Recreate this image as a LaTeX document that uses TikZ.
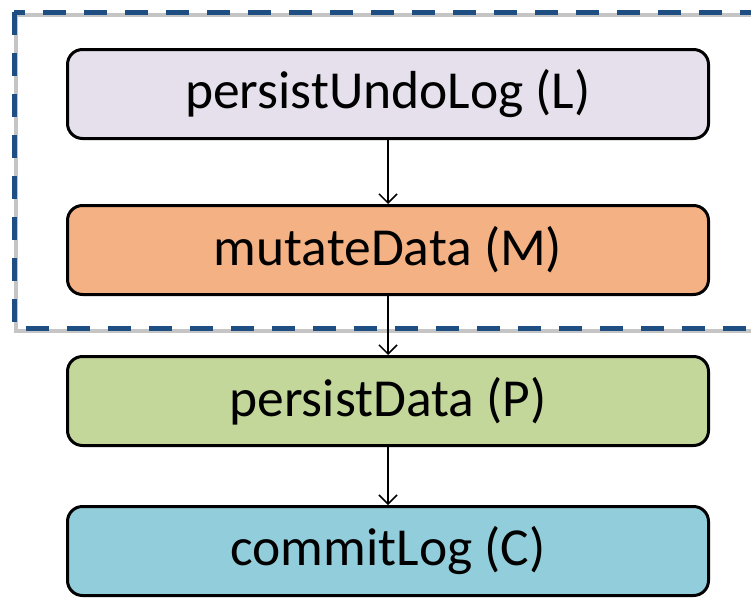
\documentclass[tikz,border=0pt]{standalone}
\usepackage{fontspec}
\setmainfont{Carlito}
\usetikzlibrary{arrows.meta,calc}

\definecolor{undoFill}{HTML}{E5E0EC}
\definecolor{mutateFill}{HTML}{F4B183}
\definecolor{persistFill}{HTML}{C4D79B}
\definecolor{commitFill}{HTML}{92CDDC}
\definecolor{groupBlue}{HTML}{1F4E83}

\begin{document}
\begin{tikzpicture}[x=1pt, y=1pt, >={Straight Barb[length=9pt,width=18pt]},
    stepbox/.style={draw, line width=3pt, rounded corners=15pt,
        minimum width=641pt, minimum height=89pt, font=\fontsize{53.5}{58}\selectfont},
    flow/.style={->, line width=1.5pt}]
    \useasboundingbox (0,0) rectangle (751,-597);

    % group around L and M, with its shadow
    \draw[black!45, opacity=0.5, line width=4pt] (16,-15) rectangle (792,-331);
    \draw[groupBlue, line width=5pt, dash pattern=on 23pt off 18pt]
        (14,-12) rectangle (790,-328);

    \node[stepbox, fill=undoFill] (undo) at (388,-94) {persistUndoLog (L)};
    \node[stepbox, fill=mutateFill] (mutate) at (388,-250) {mutateData (M)};
    \node[stepbox, fill=persistFill] (persist) at (388,-401) {persistData (P)};
    \node[stepbox, fill=commitFill] (commit) at (388,-551) {commitLog (C)};

    \draw[flow] (undo) -- (mutate);
    \draw[flow] (mutate) -- (persist);
    \draw[flow] (persist) -- (commit);
\end{tikzpicture}
\end{document}
